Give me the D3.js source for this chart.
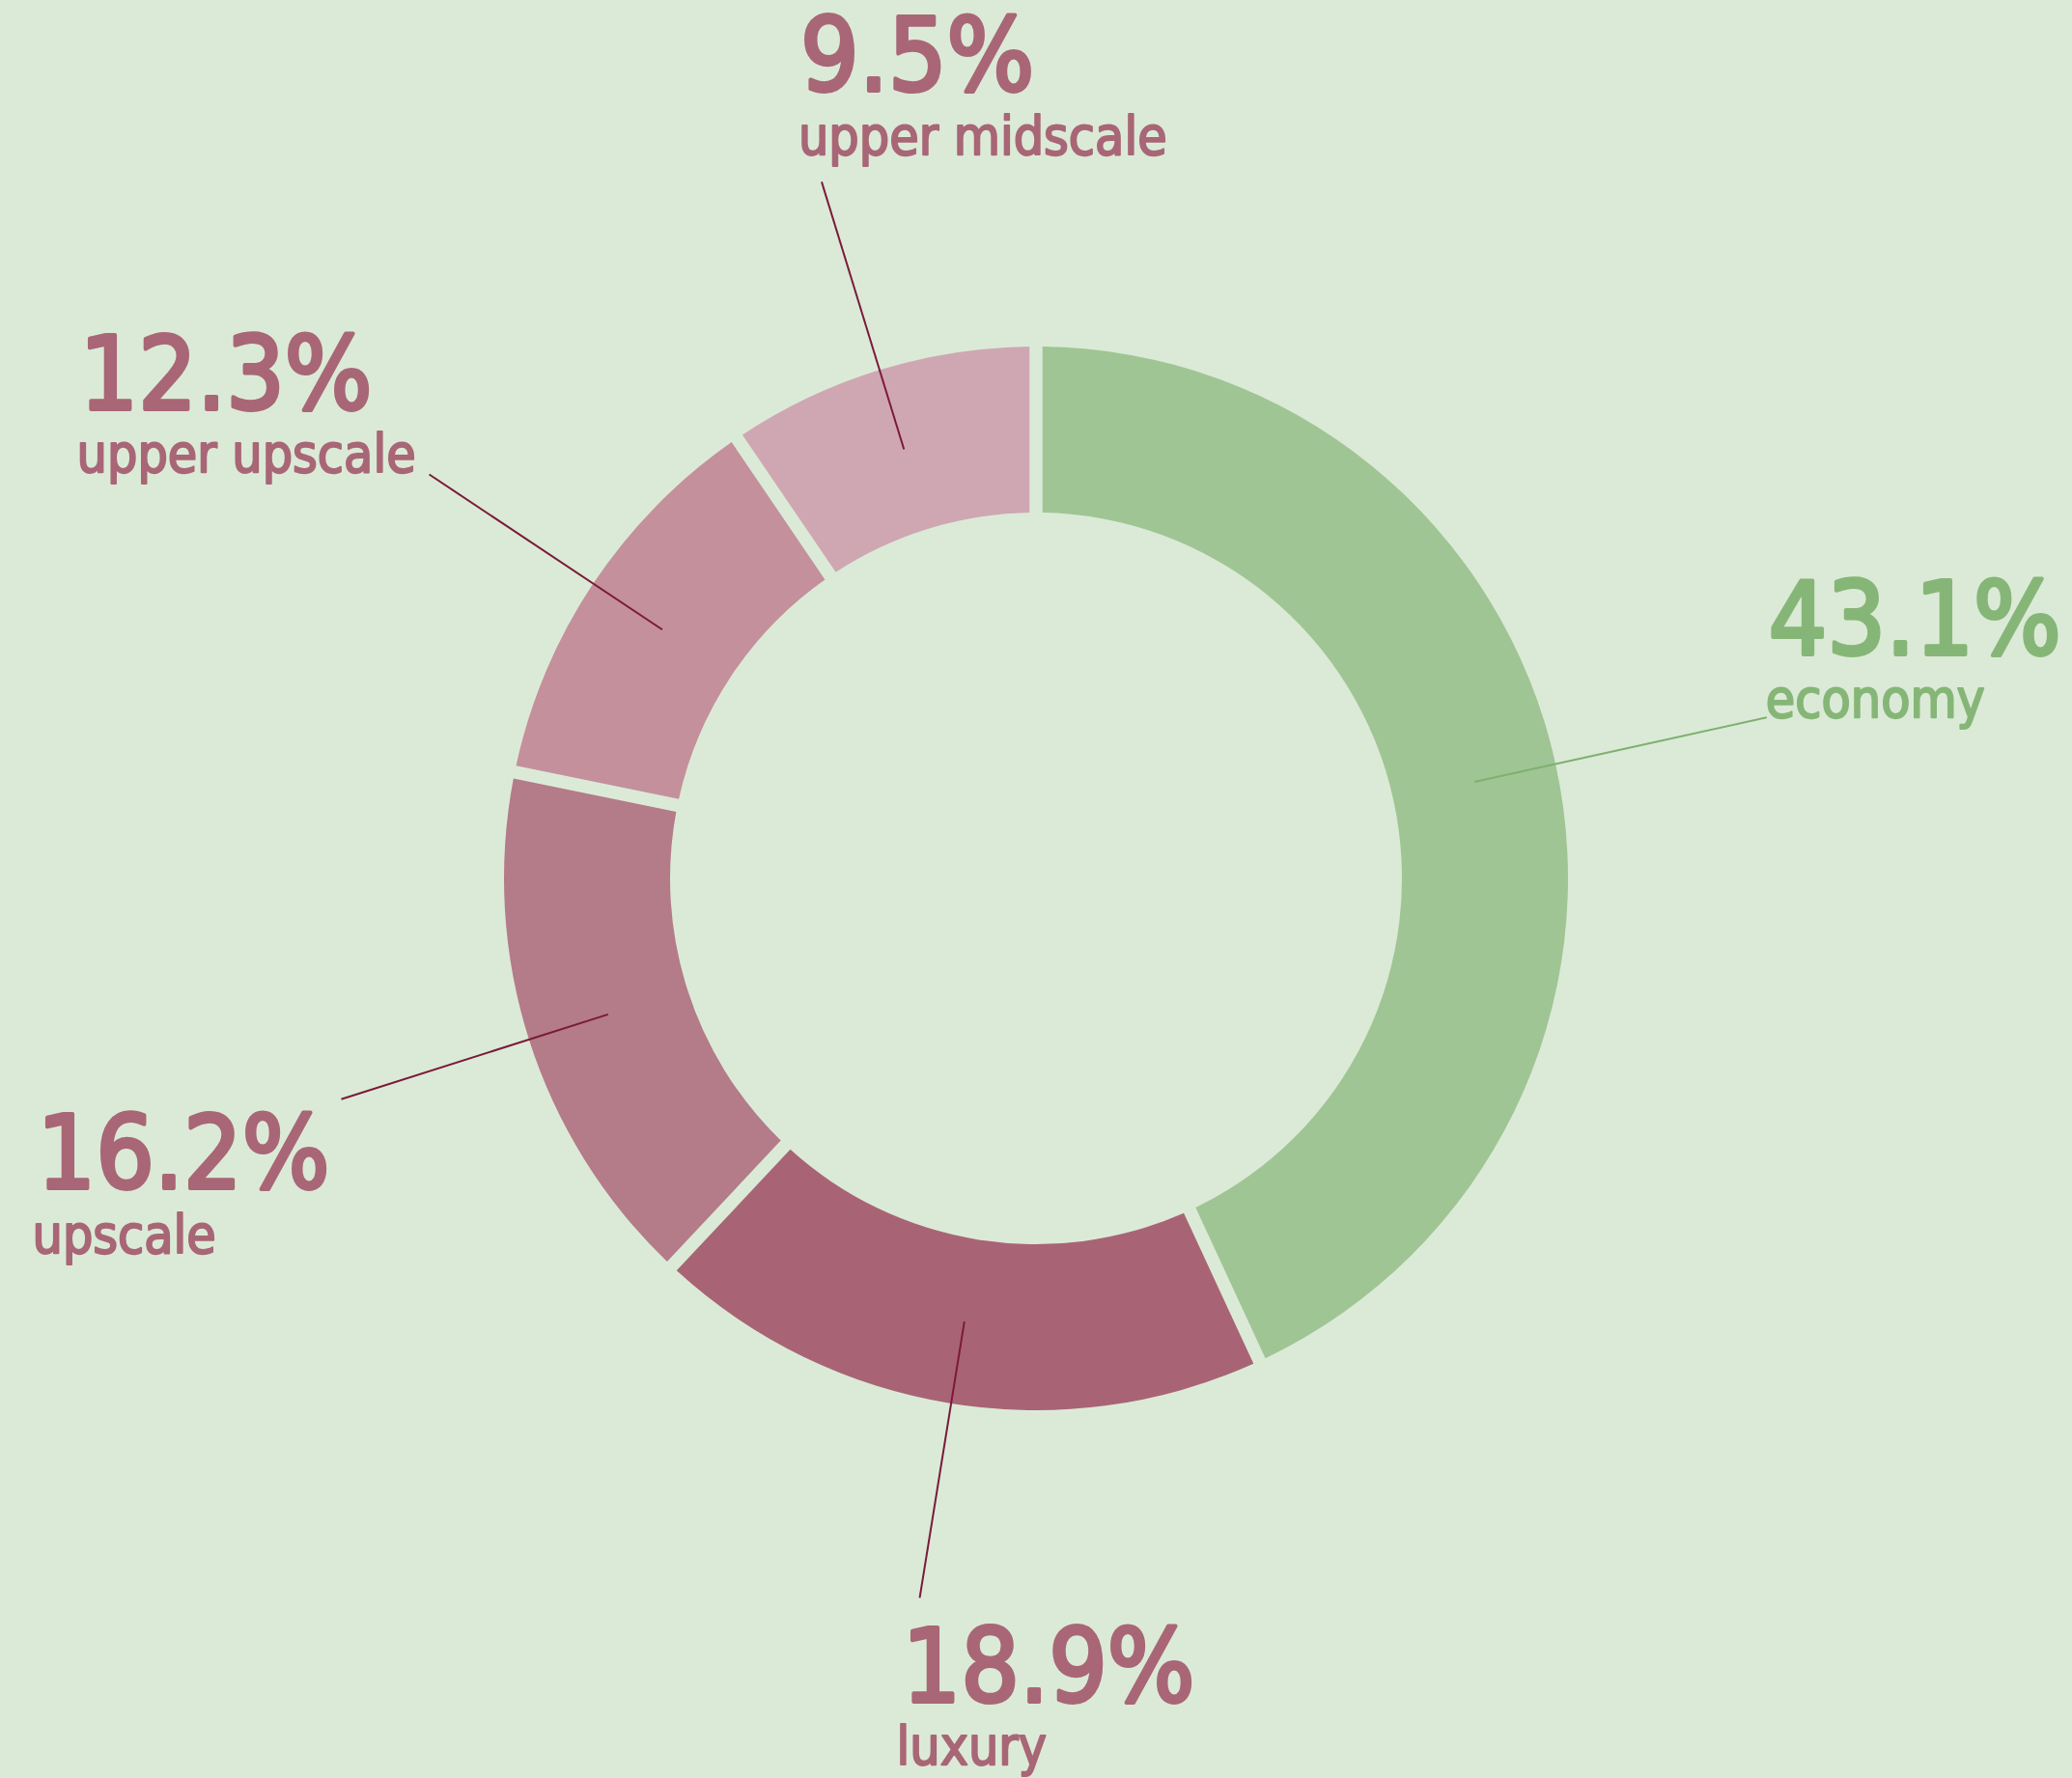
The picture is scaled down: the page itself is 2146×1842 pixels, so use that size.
<!DOCTYPE html>
<html>
<head>
<meta charset="utf-8">
<script src="https://cdn.jsdelivr.net/npm/d3@7"></script>
<style>
  html, body { margin: 0; padding: 0; background: #dbead7; }
  svg { display: block; }
  text { font-family: "DejaVu Sans Condensed", "DejaVu Sans", sans-serif; }
</style>
</head>
<body>
<script>
/*chart data*/
var categories = ["economy", "luxury", "upscale", "upper upscale", "upper midscale"];
var shares = [43.1, 18.9, 16.2, 12.3, 9.5];
var shareLabels = ["43.1%", "18.9%", "16.2%", "12.3%", "9.5%"];

/*colours of the slices and of the texts*/
var sliceColors = ["#a0c594", "#a86475", "#b47b89", "#c4909c", "#cfa7b2"];
var textColors = ["#86b677", "#a86676", "#a86676", "#a86676", "#a86676"];
var lineColors = ["#7fb06f", "#7a1a3a", "#7a1a3a", "#7a1a3a", "#7a1a3a"];

/*leader line length and where the texts sit, relative to the outer end of each leader line*/
var labelOffsets = [
	{r: 775, numDx: 2, nameDx: -1, numDy: -65, nameDy: 0},
	{r: 755, numDx: -18, nameDx: -24, numDy: 108, nameDy: 173},
	{r: 755, numDx: -315, nameDx: -320, numDy: 92, nameDy: 159},
	{r: 755, numDx: -362, nameDx: -365, numDy: -68, nameDy: -3},
	{r: 755, numDx: -22, nameDx: -24, numDy: -94, nameDy: -28}
];

var svgWidth = 2146;
var svgHeight = 1842;
var cx = 1073, cy = 910;
var innerR = 379, outerR = 551;
var gap = 13.5;

var svg = d3.select("body")
	.append("svg")
	.attr("width", svgWidth)
	.attr("height", svgHeight);

svg.append("rect")
	.attr("width", svgWidth)
	.attr("height", svgHeight)
	.attr("fill", "#dbead7");

var chartGroup = svg.append("g")
	.attr("transform", `translate(${cx}, ${cy})`);

/*no padding in the pie itself, the gaps are cut out by the arc so the slices keep their true angles*/
var pie = d3.pie()
	.sort(null)
	.value(d => d);

var arc = d3.arc()
	.innerRadius(innerR)
	.outerRadius(outerR)
	.padAngle(gap / outerR)
	.padRadius(outerR);

var arcs = pie(shares);

/*slices*/
chartGroup.selectAll(".slice")
	.data(arcs)
	.enter()
	.append("path")
	  .attr("class", "slice")
	  .attr("d", arc)
	  .attr("fill", (d, i) => sliceColors[i]);

/*leader lines from the middle of each slice outwards*/
function pointAt(angle, r) {
	return [Math.sin(angle) * r, -Math.cos(angle) * r];
}

arcs.forEach(function (d, i) {
	var off = labelOffsets[i];
	var mid = (d.startAngle + d.endAngle) / 2;
	var p0 = arc.centroid(d);
	var p1 = pointAt(mid, off.r);
	chartGroup.append("line")
		.attr("x1", p0[0]).attr("y1", p0[1])
		.attr("x2", p1[0]).attr("y2", p1[1])
		.attr("stroke", lineColors[i])
		.attr("stroke-width", 2);

	chartGroup.append("text")
		.attr("x", p1[0] + off.numDx)
		.attr("y", p1[1] + off.numDy)
		.attr("fill", textColors[i])
		.attr("stroke", textColors[i])
		.attr("stroke-width", 4)
		.attr("stroke-linejoin", "round")
		.style("font-size", "106px")
		.text(shareLabels[i]);

	chartGroup.append("text")
		.attr("x", p1[0] + off.nameDx)
		.attr("y", p1[1] + off.nameDy)
		.attr("fill", textColors[i])
		.attr("stroke", textColors[i])
		.attr("stroke-width", 2)
		.attr("stroke-linejoin", "round")
		.style("font-size", "55px")
		.text(categories[i]);
});
</script>
</body>
</html>
